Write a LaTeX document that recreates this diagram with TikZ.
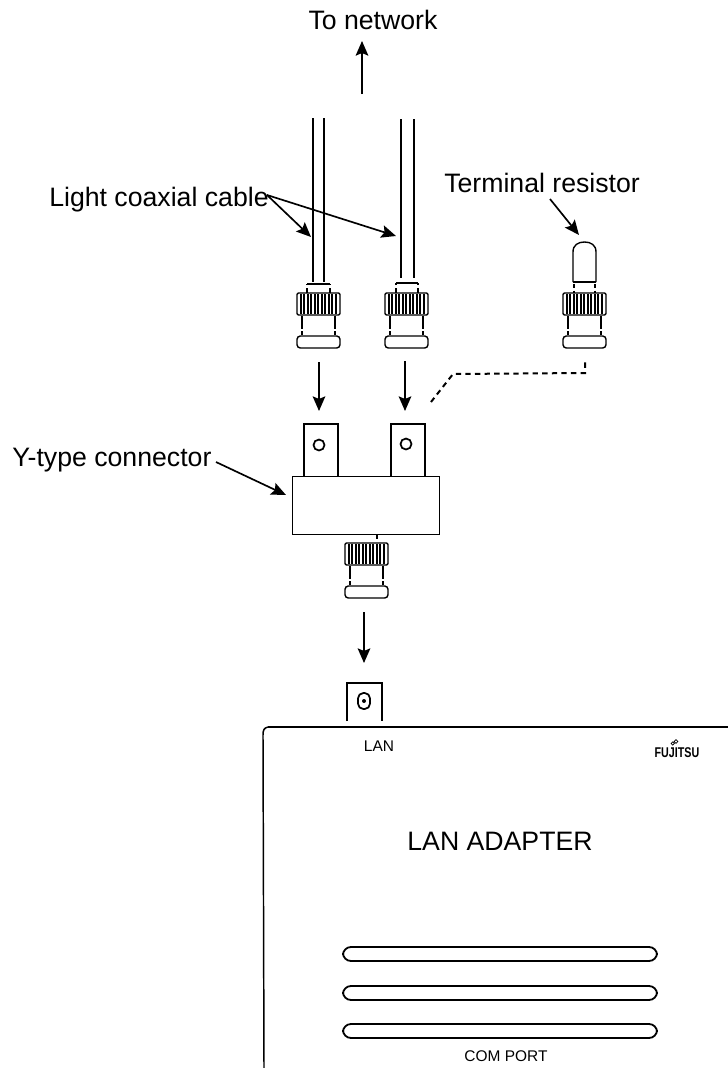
\documentclass[tikz,border=0pt]{standalone}
\usepackage{fontspec}
\setmainfont{Liberation Sans}
\usetikzlibrary{arrows.meta}
\tikzset{
  x=0.75pt,y=-0.75pt,
  ln/.style={line width=1.05pt,black},
  thin ln/.style={line width=0.8pt,black},
  arw/.style={line width=1.25pt,-{Stealth[length=11pt,width=9.5pt,inset=2pt]}},
  lbl/.style={inner sep=0pt,font=\fontsize{20pt}{22pt}\selectfont},
  small lbl/.style={inner sep=0pt,font=\fontsize{11.6pt}{13pt}\selectfont},
}
\newcommand{\bncbody}[2]{%
  \begin{scope}[shift={(#1,#2)}]
    \draw[ln,rounded corners=1pt] (0,0) rectangle (43,22);
    \foreach \q in {4,7,11,14,18,21,25,28,32,35,39}{\draw[thin ln] (\q,1) -- (\q,21);}
    \draw[ln,dash pattern=on 10pt off 1.5pt] (5,23) -- (5,42);
    \draw[ln,dash pattern=on 10pt off 1.5pt] (38,23) -- (38,42);
    \draw[ln,rounded corners=2.5pt] (0,43) rectangle (43,55);
  \end{scope}}
\begin{document}
\begin{tikzpicture}
\useasboundingbox (0,0) rectangle (728,1068);

% labels
\node[lbl] (net) at (373,20) {To network};
\node[lbl,anchor=west] (light) at (49,200) {Light coaxial cable};
\node[lbl,anchor=west] (term) at (444,183) {Terminal resistor};
\node[lbl,anchor=west] (ytype) at (12,460) {Y-type connector};
\node[small lbl] (lan) at (379,746) {LAN};
\node[lbl] (adapter) at (500,841) {LAN ADAPTER};
\node[small lbl] (com) at (506,1056) {COM PORT};
\node[inner sep=0pt,xscale=0.76,font=\bfseries\fontsize{10.6pt}{12pt}\selectfont] (fuji) at (677,753) {FUJITSU};
\draw[line width=0.5pt] (672.7,743.5) circle (1.6) (676,741.5) circle (1.8);

% network arrow
\coordinate (netfrom) at (362,94);
\coordinate (netto) at (362,41);
\draw[arw] (netfrom) -- (netto);

% cables
\draw[ln] (313,118) -- (313,282) (324,118) -- (324,282);
\draw[ln] (401,119) -- (401,278) (414,119) -- (414,278);
% cable connectors
\draw[thin ln,dash pattern=on 4pt off 2pt] (307,293) -- (307,284);
\draw[thin ln,dash pattern=on 4pt off 2pt] (330,293) -- (330,284);
\draw[ln] (307,284) -- (330,284);
\bncbody{297}{293}
\draw[thin ln,dash pattern=on 4pt off 2pt] (396,293) -- (396,283);
\draw[thin ln,dash pattern=on 4pt off 2pt] (418,293) -- (418,283);
\draw[ln] (396,283) -- (418,283);
\bncbody{385}{293}

% terminal resistor
\draw[ln] (573,282) -- (573,252) .. controls (573,245) and (578,242) .. (584.5,242)
  .. controls (591,242) and (596,245) .. (596,252) -- (596,282);
\draw[line width=1.5pt] (573,282) -- (596,282);
\draw[thin ln,dash pattern=on 3pt off 2pt] (574,284) -- (574,293) (595,284) -- (595,293);
\bncbody{563}{293}

% leader arrows
\coordinate (lc1) at (311,237);
\coordinate (lc2) at (396,236);
\coordinate (tr) at (579,235);
\coordinate (lcstart) at (267,195);
\draw[arw] (lcstart) -- (lc1);
\draw[arw] (lcstart) -- (lc2);
\coordinate (trstart) at (550,199);
\draw[arw] (trstart) -- (tr);

% plug arrows
\coordinate (a1f) at (319,362); \coordinate (a1t) at (319,411);
\coordinate (a2f) at (405,361); \coordinate (a2t) at (405,411);
\draw[arw] (a1f) -- (a1t);
\draw[arw] (a2f) -- (a2t);

% dashed
\coordinate (d0) at (431,402);
\coordinate (d1) at (453,374);
\coordinate (d2) at (585,373);
\coordinate (d3) at (585,361);
\draw[line width=1.5pt,dash pattern=on 4pt off 3.2pt] (d0) -- (d1) -- (d2) -- (d3);

% Y connector
\node[draw,ln,minimum width=147*0.75pt,minimum height=58*0.75pt,inner sep=0pt,anchor=north west] (ybody) at (292,476) {};
\draw[ln] (304,476) -- (304,424) -- (338,424) -- (338,476);
\draw[ln] (391,476) -- (391,424) -- (425,424) -- (425,476);
\draw[line width=1.3pt] (319,445) circle (5.5);
\draw[line width=1.3pt] (406,444) circle (5.5);
\draw[thin ln] (377,534) -- (377,539);
\bncbody{345}{543}
\coordinate (yarrow) at (286,495);
\coordinate (ystart) at (216,462);
\draw[arw] (ystart) -- (yarrow);
\coordinate (a3f) at (364,612); \coordinate (a3t) at (364,663);
\draw[arw] (a3f) -- (a3t);

% adapter
\draw[ln] (347,721) -- (347,683) -- (382,683) -- (382,721);
\draw[line width=1.3pt,rounded corners=4pt] (358,693) rectangle (370,709);
\fill (364,701) circle (2);
\draw[line width=1.1pt] (264,1068) -- (263,735) .. controls (263,730) and (264,728) .. (268,727);
\draw[line width=1.3pt] (268,727) -- (728,727);
\foreach \yy in {947,986,1024}{
  \draw[line width=1.35pt,rounded corners=6pt] (343,\yy) rectangle (657,\yy+14);
}
\end{tikzpicture}
\end{document}
